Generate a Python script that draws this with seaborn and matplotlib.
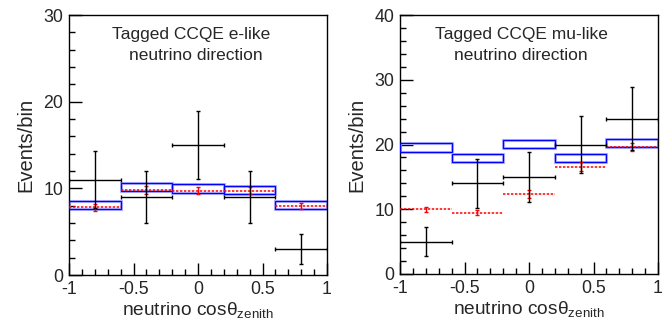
import numpy as np
import matplotlib
matplotlib.use("Agg")
import matplotlib.pyplot as plt
import seaborn as sns
import pandas as pd

# ---- data ----
bin_edges = [-1.0, -0.6, -0.2, 0.2, 0.6, 1.0]
bin_centers = [-0.8, -0.4, 0.0, 0.4, 0.8]

e_data = [11, 9, 15, 9, 3]
e_mc = [7.8, 9.8, 9.75, 9.75, 8.0]
e_mc_err = [0.4, 0.5, 0.4, 0.4, 0.35]
e_band_lo = [7.62, 9.67, 9.47, 9.32, 7.59]
e_band_hi = [8.55, 10.63, 10.47, 10.28, 8.51]

mu_data = [5, 14, 15, 20, 24]
mu_mc = [10.0, 9.45, 12.4, 16.6, 19.6]
mu_mc_err = [0.4, 0.4, 0.6, 0.7, 0.6]
mu_band_lo = [18.9, 17.3, 19.4, 17.3, 19.6]
mu_band_hi = [20.2, 18.6, 20.7, 18.6, 20.9]

titles = [("Tagged CCQE e-like", "neutrino direction"),
          ("Tagged CCQE mu-like", "neutrino direction")]
ymax = [30, 40]
xlabel = "neutrino cos$\\mathregular{\\theta_{zenith}}$"
ylabel = "Events/bin"

sns.set_theme(style="ticks")
plt.rcParams['font.family'] = ['Liberation Sans', 'DejaVu Sans']
plt.rcParams['mathtext.fontset'] = 'custom'
plt.rcParams['mathtext.rm'] = 'Liberation Sans'
plt.rcParams['mathtext.it'] = 'Liberation Sans:italic'

fig = plt.figure(figsize=(6.72, 3.27), dpi=100)
axes = [fig.add_axes([69/672, 52/327, 258/672, 260/327]),
        fig.add_axes([400/672, 53/327, 258/672, 259/327])]

panels = [
    (e_data, e_mc, e_mc_err, e_band_lo, e_band_hi),
    (mu_data, mu_mc, mu_mc_err, mu_band_lo, mu_band_hi),
]

width = bin_edges[1] - bin_edges[0]
for i, (ax, (dat, mc, mce, blo, bhi)) in enumerate(zip(axes, panels)):
    df = pd.DataFrame({"x": bin_centers, "data": dat, "mc": mc, "mce": mce,
                       "lo": blo, "hi": bhi})
    h = df["hi"] - df["lo"]
    # blue band boxes (halo + line)
    ax.bar(df["x"], h, bottom=df["lo"], width=width, fill=False,
           edgecolor="#b4b4ff", linewidth=2.2, zorder=2)
    ax.bar(df["x"], h, bottom=df["lo"], width=width, fill=False,
           edgecolor="#0000ff", linewidth=0.9, zorder=3)
    # red dashed MC
    ax.hlines(df["mc"], df["x"] - width/2, df["x"] + width/2, colors="#ff0000",
              linestyles=(0, (1.6, 1.0)), linewidth=1.1, zorder=4)
    ax.errorbar(df["x"], df["mc"], yerr=df["mce"], fmt="none", ecolor="#ff0000",
                elinewidth=1.0, capsize=1.2, linestyle=":", zorder=4)
    # black data
    ax.errorbar(df["x"], df["data"], xerr=width/2, yerr=np.sqrt(df["data"]),
                fmt="none", ecolor="black", elinewidth=1.0, capsize=1.2,
                zorder=5)

    ax.set_xlim(-1, 1)
    ax.set_ylim(0, ymax[i])
    ax.set_xticks([-1, -0.5, 0, 0.5, 1])
    ax.set_xticklabels(["-1", "-0.5", "0", "0.5", "1"])
    ax.set_xticks(np.arange(-0.9, 1.0, 0.1), minor=True)
    ax.set_yticks(np.arange(0, ymax[i] + 1, 10))
    ax.set_yticks(np.arange(0, ymax[i] + 1, 2), minor=True)
    ax.tick_params(axis="both", which="major", direction="in", length=9,
                   width=1.0, labelsize=12.8, color="black", pad=4,
                   top=False, right=False)
    ax.tick_params(axis="both", which="minor", direction="in", length=4.5,
                   width=1.0, color="black", top=False, right=False)
    for s in ax.spines.values():
        s.set_color("black")
        s.set_linewidth(1.0)
        s.set_visible(True)
    ax.set_xlabel(xlabel, fontsize=13.8, labelpad=2)
    ax.set_ylabel(ylabel, fontsize=14.5, labelpad=6)
    t1, t2 = titles[i]
    ax.text(-0.055, ymax[i] * 0.925, t1, ha="center", va="center", fontsize=12.5)
    ax.text(-0.02 if i == 0 else -0.06, ymax[i] * 0.845, t2, ha="center",
            va="center", fontsize=12.5)

fig.savefig("out.png", dpi=100)
